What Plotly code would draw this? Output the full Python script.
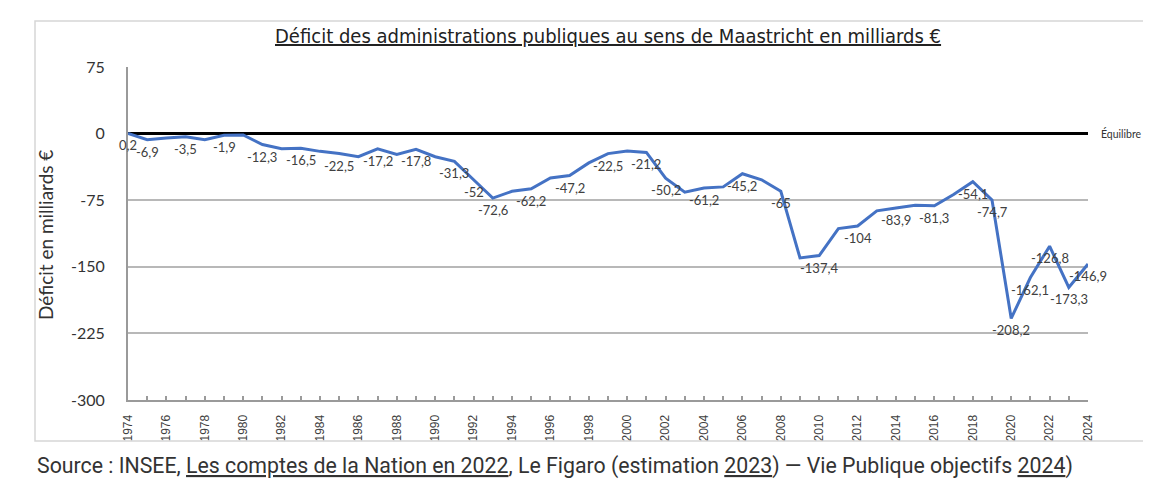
import plotly.graph_objects as go

years = list(range(1974, 2025))
deficit = [0.2, -6.9, -4.9, -3.5, -7.0, -1.9, -1.5, -12.3, -17.0, -16.5,
           -20.0, -22.5, -26.0, -17.2, -23.6, -17.8, -26.0, -31.3, -52.0, -72.6,
           -65.0, -62.2, -50.0, -47.2, -33.0, -22.5, -19.5, -21.2, -50.2, -66.0,
           -61.2, -60.0, -45.2, -52.0, -65.0, -140.0, -137.4, -107.0, -104.0, -87.0,
           -83.9, -80.6, -81.3, -68.6, -54.1, -74.7, -208.2, -162.1, -126.8, -173.3,
           -146.9]
label_years = [1974, 1975, 1977, 1979, 1981, 1983, 1985, 1987, 1989, 1991, 1992,
               1993, 1995, 1997, 1999, 2001, 2002, 2004, 2006, 2008, 2010, 2012,
               2014, 2016, 2018, 2019, 2020, 2021, 2022, 2023, 2024]
y_ticks = [75, 0, -75, -150, -225, -300]
x_tick_years = list(range(1974, 2025, 2))

title_text = "Déficit des administrations publiques au sens de Maastricht en milliards €"
y_title = "Déficit en milliards €"
source_html = ("Source : INSEE, <u>Les comptes de la Nation en 2022</u>, Le Figaro (estimation "
               "<u>2023</u>) — Vie Publique objectifs <u>2024</u>)")

def fmt(v):
    return ("%g" % v).replace(".", ",")

# page body margin offset (browser default)
O = 8
L, R, T, B = 128 - O, 1088 - O, 67 - O, 400 - O
W, H = 1151 - O, 486 - O
pw, ph = R - L, B - T

def px(x):
    return (x - O - L) / pw

def py(y):
    return (B - (y - O)) / ph

fig = go.Figure()
fig.add_trace(go.Scatter(x=years, y=deficit, mode="lines",
                         line=dict(color="#4472C4", width=3), hoverinfo="skip",
                         cliponaxis=False))

for yr in label_years:
    v = deficit[years.index(yr)]
    fig.add_annotation(x=yr, y=v, xref="x", yref="y", text=fmt(v), showarrow=False,
                       xanchor="center", yanchor="middle", yshift=-12,
                       font=dict(family="Lato, sans-serif", size=13, color="#404040"))

fig.update_layout(
    width=W, height=H,
    margin=dict(l=L, r=W - R, t=T, b=H - B),
    paper_bgcolor="white", plot_bgcolor="white",
    showlegend=False,
    xaxis=dict(range=[1974, 2024], tickvals=x_tick_years, ticktext=[str(v) for v in x_tick_years],
               tickangle=-90, showgrid=False, zeroline=False,
               showline=True, linecolor="#9a9a9a", linewidth=2,
               ticks="inside", ticklen=4, tickcolor="#9a9a9a", tickwidth=1.5,
               minor=dict(dtick=1, tick0=1974, ticks="inside", ticklen=4, tickcolor="#9a9a9a", tickwidth=1.5),
               ticklabelstandoff=8,
               tickfont=dict(family="Liberation Sans, Arial, sans-serif", size=12, color="#404040")),
    yaxis=dict(range=[-300, 75], tickvals=y_ticks, ticktext=[str(v) for v in y_ticks],
               showgrid=True, gridcolor="#b8b8b8", gridwidth=1.5,
               zeroline=True, zerolinecolor="black", zerolinewidth=2.5,
               showline=True, linecolor="#9a9a9a", linewidth=2,
               ticks="", ticklabelstandoff=18,
               tickfont=dict(family="Lato, sans-serif", size=16, color="#333333")),
)

fig.add_annotation(x=px(608), y=py(36), xref="paper", yref="paper", showarrow=False,
                   text="<u>" + title_text + "</u>", xanchor="center", yanchor="middle",
                   font=dict(family="Liberation Sans Narrow, DejaVu Sans Condensed, sans-serif",
                             size=20, color="#222222"))
fig.add_annotation(x=px(46), y=py(235), xref="paper", yref="paper", showarrow=False,
                   text=y_title, textangle=-90, xanchor="center", yanchor="middle",
                   font=dict(family="Lato, sans-serif", size=19, color="#333333"))
fig.add_annotation(x=px(1099), y=0, xref="paper", yref="y", showarrow=False,
                   text="Équilibre", xanchor="left", yanchor="middle",
                   font=dict(family="Lato, sans-serif", size=10.5, color="#333333"))
fig.add_annotation(x=px(35), y=py(466), xref="paper", yref="paper", showarrow=False,
                   text=source_html, xanchor="left", yanchor="middle",
                   font=dict(family="Roboto, sans-serif", size=21.3, color="#333333"))

x0, x1, y0, y1 = px(35), px(1147), py(441), py(21)
fig.add_shape(type="path", xref="paper", yref="paper",
              path=f"M {x1},{y1} L {x0},{y1} L {x0},{y0} L {x1},{y0}",
              line=dict(color="#d6d6d6", width=1.5))

fig.write_html("out.html")
